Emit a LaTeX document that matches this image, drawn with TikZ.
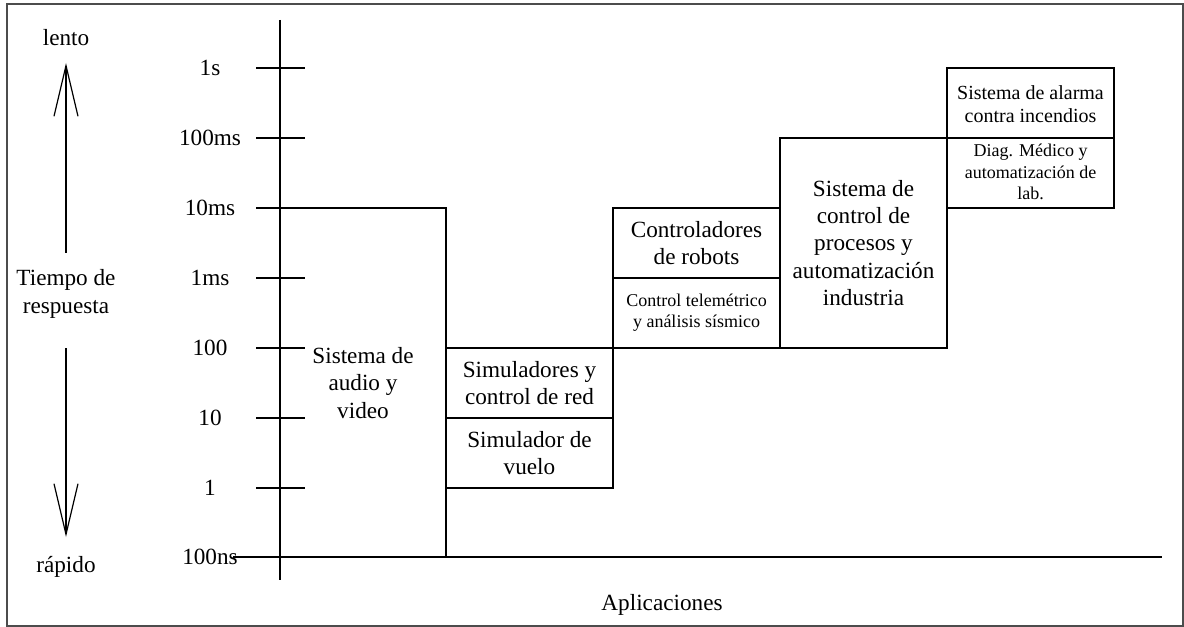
\documentclass[tikz,border=0pt]{standalone}
\usepackage{fontspec}
\setmainfont{Liberation Serif}
\usetikzlibrary{arrows.meta}
\tikzset{
  frame/.style={draw=black!70, line width=0.9pt},
  axisline/.style={line width=0.9pt},
  tick/.style={line width=0.9pt},
  cell/.style={line width=1.3pt},
  big/.style={align=center, font=\fontsize{17.4}{20.4}\selectfont, inner sep=0pt},
  mid/.style={align=center, font=\fontsize{15}{17.3}\selectfont, inner sep=0pt},
  small/.style={align=center, font=\fontsize{13.5}{16}\selectfont, inner sep=0pt},
  ticklabel/.style={font=\fontsize{17.4}{20.4}\selectfont, inner sep=0pt},
  barb/.style={line width=0.9pt, -{Straight Barb[length=38pt,width=18pt,line width=0.9pt]}},
}
\begin{document}
\begin{tikzpicture}[x=0.75pt,y=-0.75pt]
\useasboundingbox (0,0) rectangle (1184,627);
% outer frame
\draw[frame] (7,4) rectangle (1183,626);

% response-time arrows and labels
\node[big] (lento) at (66,38) {lento};
\node[big] (rapido) at (66,567) {rápido};
\node[big] (tiempo) at (66,294) {Tiempo de\\respuesta};
\coordinate (upstart) at (66,253);
\coordinate (uptip) at (66,63);
\coordinate (dnstart) at (66,348);
\coordinate (dntip) at (66,537);
\draw[barb] (upstart) -- (uptip);
\draw[barb] (dnstart) -- (dntip);

% vertical axis
\coordinate (axtop) at (280,20);
\coordinate (axbot) at (280,580);
\draw[axisline] (axtop) -- (axbot);

% baseline
\coordinate (blleft) at (233,557);
\coordinate (blright) at (1162,557);
\draw[cell] (blleft) -- (blright);

% ticks with labels
\foreach \lab/\yy/\nm in {1s/68/a,100ms/138/b,10ms/208/c,1ms/278/d,100/348/e,10/418/f,1/488/g}{
  \coordinate (tl\nm) at (256,\yy);
  \coordinate (tr\nm) at (305,\yy);
  \draw[tick] (tl\nm) -- (tr\nm);
  \node[ticklabel] (lab\nm) at (210,\yy) {\lab};
}
\node[ticklabel] (labh) at (210,557) {100ns};

% application cells
\draw[cell] (280,208) rectangle (446,557);
\node[big] (audio) at (363,383) {Sistema de\\audio y\\video};

\draw[cell] (446,348) rectangle (613,418);
\node[big] (simred) at (529.5,383) {Simuladores y\\control de red};
\draw[cell] (446,418) rectangle (613,488);
\node[big] (vuelo) at (529.5,453) {Simulador de\\vuelo};

\draw[cell] (613,208) rectangle (780,278);
\node[big] (robots) at (696.5,243) {Controladores\\de robots};
\draw[cell] (613,278) rectangle (780,348);
\node[small] (telem) at (696.5,313) {Control telemétrico\\y análisis sísmico};

\draw[cell] (780,138) rectangle (947,348);
\node[big] (procesos) at (863.5,243) {Sistema de\\control de\\procesos y\\automatización\\industria};

\draw[cell] (947,68) rectangle (1114,138);
\node[mid] (alarma) at (1030.5,104) {Sistema de alarma\\contra incendios};
\draw[cell] (947,138) rectangle (1114,208);
\node[small] (diag) at (1030.5,172) {Diag. Médico y\\automatización de\\lab.};

% horizontal axis title
\node[big] (aplic) at (662,605) {Aplicaciones};
\end{tikzpicture}
\end{document}
